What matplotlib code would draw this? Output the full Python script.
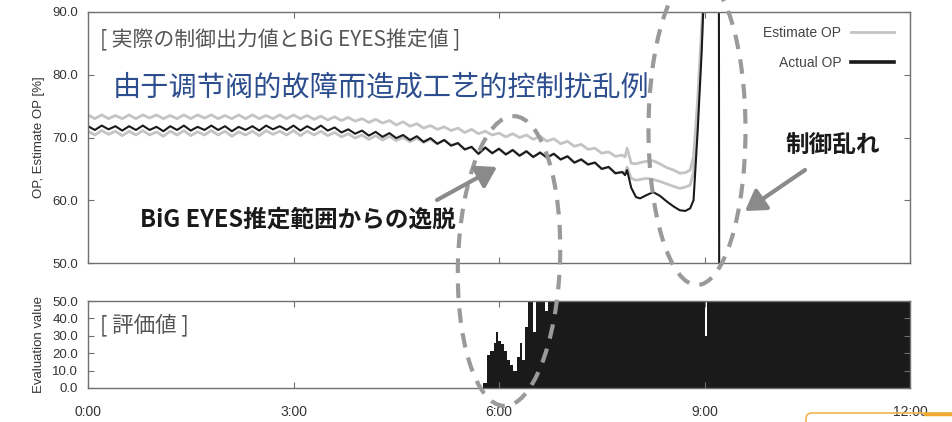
import matplotlib
matplotlib.use("Agg")
import matplotlib.pyplot as plt
import matplotlib.transforms as mtransforms
from matplotlib.patches import Ellipse, FancyArrowPatch, FancyBboxPatch
from matplotlib.lines import Line2D
import numpy as np

plt.rcParams['font.family'] = ['Liberation Sans', 'Noto Sans CJK JP', 'DejaVu Sans']
JP = ['Noto Sans CJK JP', 'DejaVu Sans']
SC = ['Noto Sans CJK SC', 'DejaVu Sans']

# ---- data (hours since 0:00) ----
base_t = np.round(np.arange(0, 7.85, 0.1), 1)  # 0.0 ... 7.8
tail_t = [7.84, 7.87, 7.93, 8.0, 8.06, 8.15, 8.25, 8.35, 8.45, 8.55, 8.64, 8.72, 8.79, 8.84, 8.9, 8.96, 9.0]

est_hi_base = [73.6, 73.0, 73.6, 73.0, 73.5, 73.0, 73.6, 73.0, 73.6, 73.1,
               73.6, 73.0, 73.5, 73.0, 73.6, 73.0, 73.6, 73.1, 73.6, 73.0,
               73.5, 73.0, 73.6, 73.0, 73.6, 73.0, 73.5, 73.0, 73.6, 73.0,
               73.6, 73.0, 73.5, 72.9, 73.4, 72.8, 73.3, 72.7, 73.2, 72.6,
               73.0, 72.4, 72.9, 72.3, 72.7, 72.0, 72.5, 71.8, 72.2, 71.5,
               71.9, 71.3, 71.7, 71.1, 71.5, 70.8, 71.3, 70.6, 71.0, 70.4,
               70.7, 70.1, 70.6, 70.0, 70.4, 69.7, 70.2, 69.4, 69.8, 69.0,
               69.4, 68.6, 68.9, 68.1, 68.3, 67.5, 67.7, 67.0, 67.2]
est_hi_tail = [66.9, 68.3, 65.9, 65.8, 66.0, 66.2, 66.3, 65.8, 65.2, 64.8,
               64.3, 64.4, 64.8, 67.0, 76.0, 88.0, 95.0]

est_lo_base = [71.0, 70.4, 71.1, 70.5, 71.0, 70.3, 71.0, 70.4, 71.1, 70.4,
               70.9, 70.2, 71.0, 70.4, 71.1, 70.3, 70.9, 70.4, 71.1, 70.4,
               71.0, 70.2, 70.9, 70.4, 71.0, 70.3, 71.1, 70.5, 71.0, 70.4,
               71.1, 70.3, 71.0, 70.4, 71.0, 70.3, 70.8, 70.1, 70.6, 69.9,
               70.4, 69.7, 70.3, 69.6, 70.2, 69.5, 70.0, 69.3, 69.9, 69.2,
               69.7, 69.0, 69.6, 68.8, 69.1, 68.1, 68.5, 67.4, 68.4, 67.5,
               68.2, 67.3, 68.0, 67.1, 67.8, 66.9, 67.6, 66.8, 67.4, 66.5,
               67.0, 66.0, 66.5, 65.7, 66.0, 65.0, 65.3, 64.3, 64.5]
est_lo_tail = [64.3, 65.3, 63.5, 63.2, 63.3, 63.5, 63.3, 63.0, 62.6, 62.2,
               61.9, 62.1, 62.4, 64.5, 74.0, 86.0, 95.0]

actual_base = [71.8, 71.2, 71.9, 71.3, 71.8, 71.1, 71.8, 71.2, 71.9, 71.2,
               71.7, 71.0, 71.8, 71.2, 71.9, 71.1, 71.7, 71.2, 71.9, 71.2,
               71.8, 71.0, 71.7, 71.2, 71.8, 71.1, 71.9, 71.3, 71.8, 71.2,
               71.9, 71.1, 71.8, 71.2, 71.9, 71.1, 71.6, 70.8, 71.3, 70.6,
               71.1, 70.3, 70.9, 70.1, 70.7, 69.9, 70.4, 69.6, 70.2, 69.3,
               69.9, 69.0, 69.6, 68.7, 69.1, 68.1, 68.5, 67.4, 68.4, 67.5,
               68.2, 67.3, 68.0, 67.1, 67.8, 66.9, 67.6, 66.8, 67.4, 66.5,
               67.0, 66.0, 66.5, 65.7, 66.0, 65.0, 65.3, 64.3, 64.5]
actual_tail = [64.0, 64.8, 62.0, 60.5, 60.3, 60.8, 61.3, 60.7, 59.8, 59.0,
               58.4, 58.3, 58.7, 60.0, 71.0, 84.0, 96.0]
actual_end_t = [9.21, 9.215]
actual_end = [96.0, 40.0]

eval_t = [5.77, 5.82, 5.87, 5.92, 5.95, 5.99, 6.03, 6.07, 6.12, 6.16, 6.21,
          6.26, 6.30, 6.34, 6.38, 6.43, 6.50, 6.54, 6.67, 6.71, 9.00, 9.04, 12.0]
eval_v = [3, 19, 21, 26, 32, 27, 25, 21, 16, 13, 10,
          18, 26, 16, 35, 50, 32, 50, 44, 50, 30, 50, 50]

hour_ticks = [0, 3, 6, 9, 12]
hour_labels = ['0:00', '3:00', '6:00', '9:00', '12:00']
op_ticks = [50, 60, 70, 80, 90]
eval_ticks = [0, 10, 20, 30, 40, 50]

t_est = list(base_t) + tail_t
t_act = list(base_t) + tail_t + actual_end_t

# ---- figure ----
fig = plt.figure(figsize=(9.52, 4.22), dpi=100)
W, H = 952, 422
px = mtransforms.Affine2D().scale(1 / W, -1 / H).translate(0, 1) + fig.transFigure

ax1 = fig.add_axes([88 / W, 1 - 263 / H, 822 / W, 251 / H])
ax2 = fig.add_axes([88 / W, 1 - 388 / H, 822 / W, 87 / H])

spine_c = '#707070'
for ax in (ax1, ax2):
    for s in ax.spines.values():
        s.set_color(spine_c)
        s.set_linewidth(1.0)
    ax.tick_params(direction='in', length=4, color=spine_c, labelcolor='#333333',
                   labelsize=9.5, top=True, right=True, pad=7)
    ax.set_xlim(0, 12)
    ax.set_xticks(hour_ticks)

est_c = '#c4c4c4'
ax1.plot(t_est, est_hi_base + est_hi_tail, color=est_c, lw=2.0)
ax1.plot(t_est, est_lo_base + est_lo_tail, color=est_c, lw=2.0)
ax1.plot(t_act, actual_base + actual_tail + actual_end, color='#1a1a1a', lw=1.5)
ax1.set_ylim(50, 90)
ax1.set_yticks(op_ticks)
ax1.set_yticklabels([f'{v:.1f}' for v in op_ticks])
ax1.tick_params(labelbottom=False)
ax1.set_ylabel('OP, Estimate OP [%]', fontsize=9.5, color='#333333')
ax1.yaxis.set_label_coords(-0.052, 0.5)

handles = [Line2D([], [], color=est_c, lw=2.0), Line2D([], [], color='#1a1a1a', lw=2.6)]
ax1.legend(handles, ['Estimate OP', 'Actual OP'], loc='upper right', markerfirst=False,
           frameon=False, fontsize=10, labelcolor='#444444', handlelength=3.1,
           handletextpad=0.7, labelspacing=1.15, borderpad=0, borderaxespad=0,
           bbox_to_anchor=(894, 26), bbox_transform=px)

ax2.fill_between(eval_t, eval_v, step='post', color='#1a1a1a', lw=0)
ax2.set_ylim(0, 50)
ax2.set_yticks(eval_ticks)
ax2.set_yticklabels([f'{v:.1f}' for v in eval_ticks])
ax2.set_xticklabels(hour_labels)
ax2.tick_params(axis='x', pad=12, labelsize=10)
ax2.set_ylabel('Evaluation value', fontsize=9.5, color='#333333')
ax2.yaxis.set_label_coords(-0.052, 0.5)

# ---- annotations ----
fig.text(100, 40, '[ 実際の制御出力値とBiG EYES推定値 ]', transform=px, family=JP,
         fontsize=15, color='#555555', va='center', ha='left')
fig.text(100, 325, '[ 評価値 ]', transform=px, family=JP,
         fontsize=15.5, color='#555555', va='center', ha='left')
fig.text(113, 88, '由于调节阀的故障而造成工艺的控制扰乱例', transform=px, family=SC,
         fontsize=20.3, color='#2d4e8e', va='center', ha='left')
fig.text(298, 220, 'BiG EYES推定範囲からの逸脱', transform=px, family=JP,
         fontsize=17, fontweight='bold', color='#1a1a1a', va='center', ha='center')
fig.text(833, 145, '制御乱れ', transform=px, family=JP,
         fontsize=17, fontweight='bold', color='#1a1a1a', va='center', ha='center')

dash = dict(fill=False, ec='#9a9a9a', lw=3.0, ls=(0, (3.5, 2.5)), transform=px)
fig.add_artist(Ellipse((509, 261), 102, 290, angle=2, **dash))
fig.add_artist(Ellipse((697, 130), 97, 310, **dash))

arr = dict(arrowstyle='-|>,head_length=0.8,head_width=0.5', mutation_scale=15,
           color='#8a8a8a', lw=3.0, transform=px, shrinkA=0, shrinkB=0)
fig.add_artist(FancyArrowPatch((437, 200), (497, 167), **arr))
fig.add_artist(FancyArrowPatch((805, 170), (745, 211), **arr))

# slide frame corner in the bottom right
fig.add_artist(FancyBboxPatch((806, 413), 200, 40, boxstyle='round,pad=0,rounding_size=6',
                              transform=px, ec='#f0b450', fc='none', lw=1.2))
fig.add_artist(Line2D([925, 952], [414, 414], transform=px, color='#f0a830', lw=2.5))

fig.savefig('out.png', dpi=100)
